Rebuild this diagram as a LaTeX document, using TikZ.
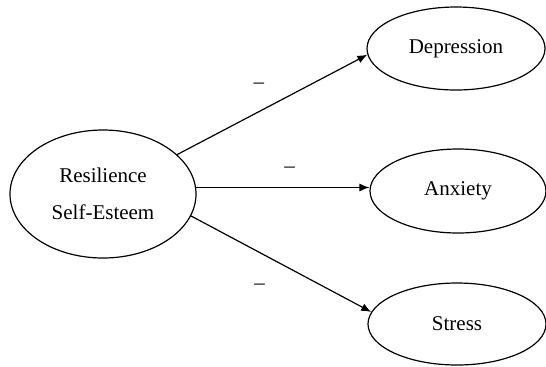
\documentclass[tikz,border=0pt]{standalone}
\usepackage{fontspec}
\setmainfont{Liberation Serif}
\usetikzlibrary{shapes.geometric,arrows.meta}

\begin{document}
\begin{tikzpicture}[x=0.5pt,y=-0.5pt,
  latent/.style={ellipse,draw,line width=0.6pt,inner sep=0pt,align=center,
    font=\fontsize{10.5}{18.5}\selectfont},
  effect/.style={draw,line width=0.6pt,->,>={Latex[length=5pt,width=4pt]}},
  sign/.style={font=\fontsize{10.5}{12}\selectfont}]
\useasboundingbox (0,0) rectangle (546,366);
\node[latent,minimum width=93pt,minimum height=64pt] (rse) at (103,194) {Resilience\\Self-Esteem};
\node[latent,minimum width=89pt,minimum height=41.5pt] (dep) at (456,48.5) {Depression};
\node[latent,minimum width=88pt,minimum height=42pt] (anx) at (458,191) {Anxiety};
\node[latent,minimum width=89pt,minimum height=41pt] (str) at (457,324) {Stress};
\draw[effect] (rse.28) -- (dep.184) node[sign,pos=0.43,yshift=13pt] {--};
\draw[effect] (rse.4) -- (rse.4 -| anx.west) node[sign,pos=0.54,yshift=9pt] {--};
\draw[effect] (rse.-14) -- (str.172) node[sign,pos=0.38,yshift=-17pt] {--};
\end{tikzpicture}
\end{document}
